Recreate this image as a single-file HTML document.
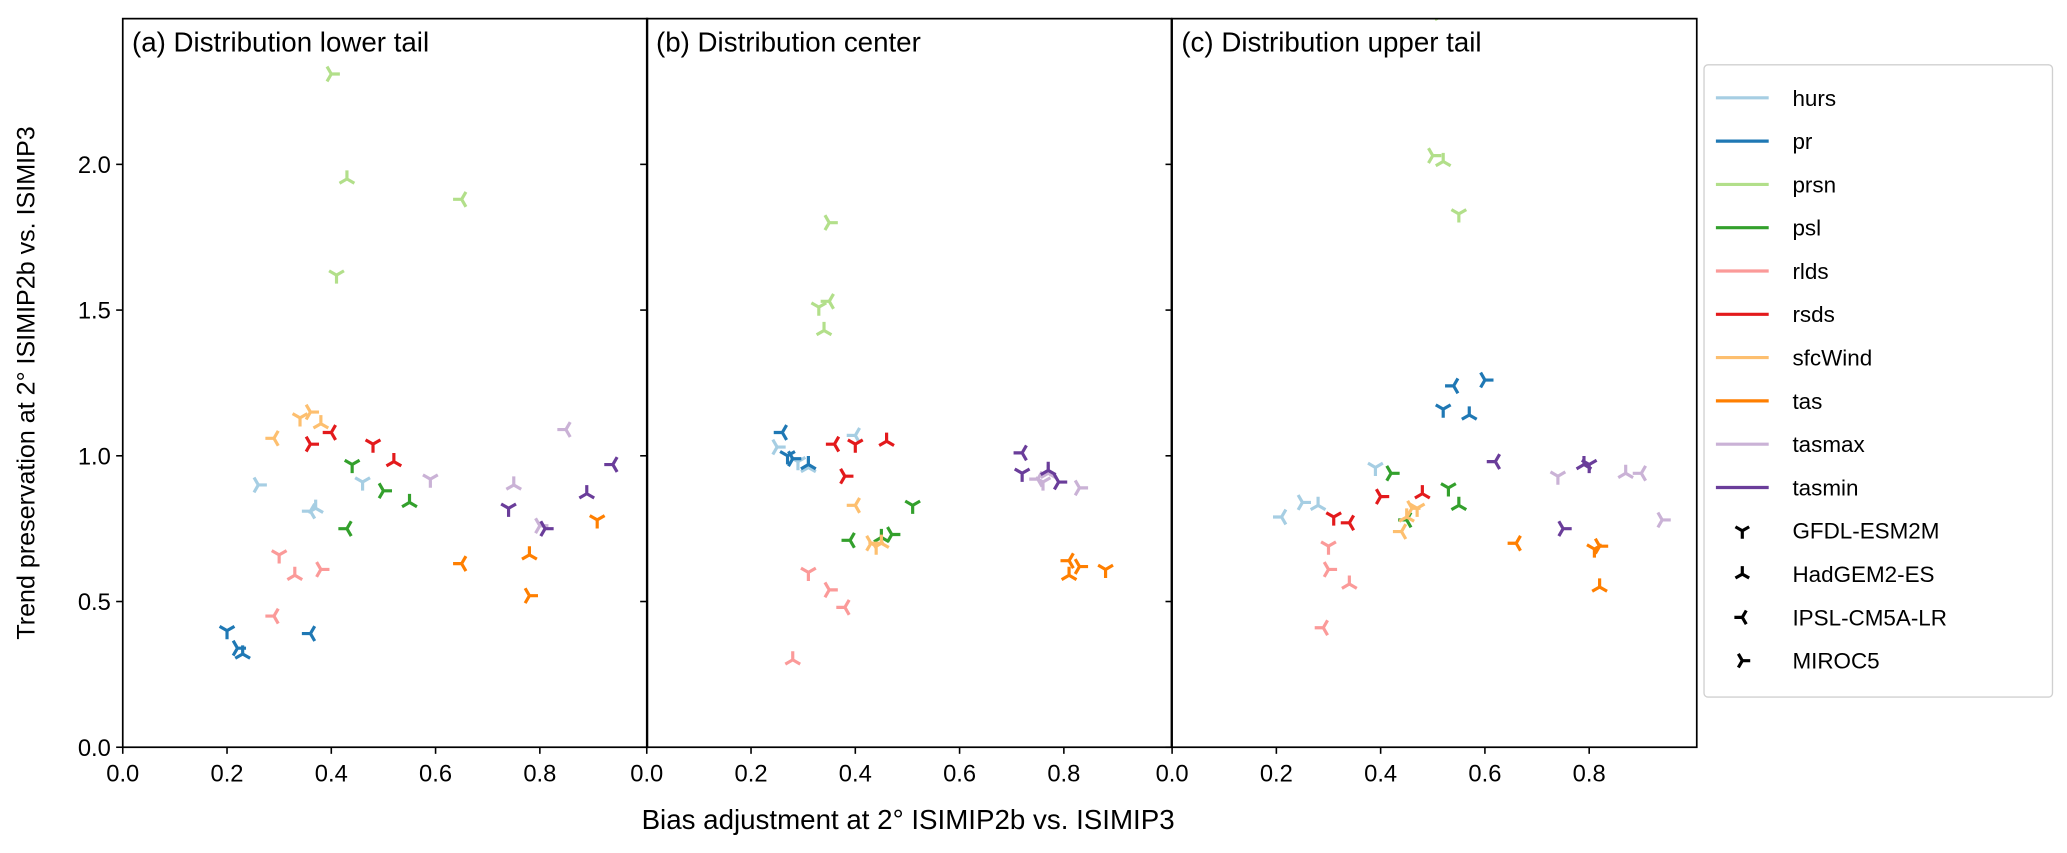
<!DOCTYPE html>
<html><head><meta charset="utf-8"><style>
html,body{margin:0;padding:0;background:#fff;}
svg{display:block;font-family:"Liberation Sans",Arial,sans-serif;}
</style></head><body>
<svg id="chart" width="2067" height="853" viewBox="0 0 1566 646" xmlns="http://www.w3.org/2000/svg">
<defs>
<clipPath id="clip0"><rect x="93" y="14" width="397" height="552"/></clipPath>
<clipPath id="clip1"><rect x="490" y="14" width="398" height="552"/></clipPath>
<clipPath id="clip2"><rect x="888" y="14" width="398" height="552"/></clipPath>
</defs>
<g id="marks"></g>
<g id="axes"></g>
<text x="0" y="0" transform="translate(26,290) rotate(-90)" text-anchor="middle" font-size="19">Trend preservation at 2° ISIMIP2b vs. ISIMIP3</text>
<text x="688" y="628" text-anchor="middle" font-size="21">Bias adjustment at 2° ISIMIP2b vs. ISIMIP3</text>
<g id="legend"></g>
</svg>
<script>
const variables = ["hurs","pr","prsn","psl","rlds","rsds","sfcWind","tas","tasmax","tasmin"];
const colors = ["#a6cee3","#1f78b4","#b2df8a","#33a02c","#fb9a99","#e31a1c","#fdbf6f","#ff7f00","#cab2d6","#6a3d9a"];
const models = ["GFDL-ESM2M","HadGEM2-ES","IPSL-CM5A-LR","MIROC5"];
const panelTitles = ["(a) Distribution lower tail","(b) Distribution center","(c) Distribution upper tail"];
const xTicks = [0.0,0.2,0.4,0.6,0.8];
const yTicks = [0.0,0.5,1.0,1.5,2.0];
// values per variable: [GFDL, HadGEM, IPSL, MIROC]
const panelA_x = [[0.46,0.37,0.36,0.26],[0.20,0.23,0.36,0.22],[0.41,0.43,0.65,0.40],[0.44,0.55,0.43,0.50],[0.30,0.33,0.29,0.38],[0.48,0.52,0.40,0.36],[0.34,0.38,0.29,0.36],[0.91,0.78,0.65,0.78],[0.59,0.75,0.85,0.80],[0.74,0.89,0.94,0.81]];
const panelA_y = [[0.91,0.82,0.81,0.90],[0.40,0.32,0.39,0.34],[1.62,1.95,1.88,2.31],[0.97,0.84,0.75,0.88],[0.66,0.59,0.45,0.61],[1.04,0.98,1.08,1.04],[1.13,1.11,1.06,1.15],[0.78,0.66,0.63,0.52],[0.92,0.90,1.09,0.76],[0.82,0.87,0.97,0.75]];
const panelB_x = [[0.29,0.31,0.40,0.25],[0.27,0.31,0.26,0.28],[0.33,0.34,0.35,0.35],[0.51,0.45,0.39,0.47],[0.31,0.28,0.38,0.35],[0.40,0.46,0.36,0.38],[0.44,0.45,0.40,0.43],[0.88,0.81,0.81,0.83],[0.76,0.77,0.75,0.83],[0.72,0.77,0.72,0.79]];
const panelB_y = [[0.98,0.96,1.07,1.03],[1.00,0.97,1.08,0.99],[1.51,1.43,1.53,1.80],[0.83,0.72,0.71,0.73],[0.60,0.30,0.48,0.54],[1.04,1.05,1.04,0.93],[0.69,0.70,0.83,0.70],[0.61,0.59,0.64,0.62],[0.91,0.94,0.92,0.89],[0.94,0.95,1.01,0.91]];
const panelC_x = [[0.39,0.28,0.21,0.25],[0.52,0.57,0.54,0.60],[0.55,0.52,0.50,0.50],[0.53,0.55,0.45,0.42],[0.30,0.34,0.29,0.30],[0.31,0.48,0.34,0.40],[0.47,0.45,0.44,0.46],[0.81,0.82,0.66,0.82],[0.74,0.87,0.90,0.94],[0.80,0.79,0.62,0.75]];
const panelC_y = [[0.96,0.83,0.79,0.84],[1.16,1.14,1.24,1.26],[1.83,2.01,2.52,2.03],[0.89,0.83,0.78,0.94],[0.69,0.56,0.41,0.61],[0.79,0.87,0.77,0.86],[0.82,0.79,0.74,0.82],[0.68,0.55,0.70,0.69],[0.93,0.94,0.94,0.78],[0.97,0.97,0.98,0.75]];

const NS = "http://www.w3.org/2000/svg";
const panelLeft = [93,490,888];
const PW = 397.5, YB = 566, YT = 14, XU = 395, YU = 220.8;
function xScale(p, v){ return panelLeft[p] + v*XU; }
function yScale(v){ return YB - v*YU; }
function mk(tag, attrs, parent){ const e=document.createElementNS(NS,tag); for(const k in attrs) e.setAttribute(k,attrs[k]); parent.appendChild(e); return e; }
const armAngles = [[90,210,330],[270,30,150],[180,300,60],[0,120,240]];
function triMarker(cx, cy, m, color, parent, r){
  let d="";
  armAngles[m].forEach(a=>{ const t=a*Math.PI/180; d+=`M${cx},${cy}L${(cx+r*Math.cos(t)).toFixed(2)},${(cy+r*Math.sin(t)).toFixed(2)}`; });
  return mk("path",{d:d,stroke:color,"stroke-width":2.4,fill:"none"},parent);
}
const marks = document.getElementById("marks");
const axes = document.getElementById("axes");
const panelsX=[panelA_x,panelB_x,panelC_x], panelsY=[panelA_y,panelB_y,panelC_y];
for(let p=0;p<3;p++){
  const g = mk("g",{"clip-path":`url(#clip${p})`},marks);
  
  
  for(let v=0;v<variables.length;v++){
    for(let m=0;m<4;m++){
      const el = triMarker(xScale(p,panelsX[p][v][m]), yScale(panelsY[p][v][m]), m, colors[v], g, 6.5);
      
      
    }
  }
  const frame = mk("rect",{x:panelLeft[p],y:YT,width:PW,height:YB-YT,fill:"none",stroke:"#000","stroke-width":1.3},axes);
  
  
  const title = mk("text",{x:panelLeft[p]+7,y:39,"font-size":21},axes);
  title.textContent = panelTitles[p];
  
  
  xTicks.forEach(t=>{
    const x=xScale(p,t);
    mk("line",{x1:x,x2:x,y1:YB,y2:YB+5,stroke:"#000","stroke-width":1.2},axes);
    const lb = mk("text",{x:x,y:YB+26,"text-anchor":"middle","font-size":18},axes);
    lb.textContent = t.toFixed(1);
    
    
  });
  yTicks.forEach(t=>{
    const y=yScale(t);
    mk("line",{x1:panelLeft[p]-5,x2:panelLeft[p],y1:y,y2:y,stroke:"#000","stroke-width":1.2},axes);
    if(p===0){
      const lb = mk("text",{x:panelLeft[p]-9,y:y+6.5,"text-anchor":"end","font-size":18},axes);
      lb.textContent = t.toFixed(1);
      
      
    }
  });
}
const lg = document.getElementById("legend");
mk("rect",{x:1291,y:49,width:264,height:479,rx:3,fill:"#fff",stroke:"#d0d0d0","stroke-width":1},lg);
const rowY0=74, rowDY=32.8;
variables.forEach((v,i)=>{
  const y=rowY0+i*rowDY;
  const ln = mk("line",{x1:1300,x2:1340,y1:y,y2:y,stroke:colors[i],"stroke-width":2.4},lg);
  
  
  const t = mk("text",{x:1358,y:y+6,"font-size":17},lg);
  t.textContent=v;
  
  
});
models.forEach((m,i)=>{
  const y=rowY0+(variables.length+i)*rowDY;
  const mkEl = triMarker(1320,y,i,"#000",lg,6);
  
  
  const t = mk("text",{x:1358,y:y+6,"font-size":17},lg);
  t.textContent=m;
  
  
});
</script>
</body></html>
